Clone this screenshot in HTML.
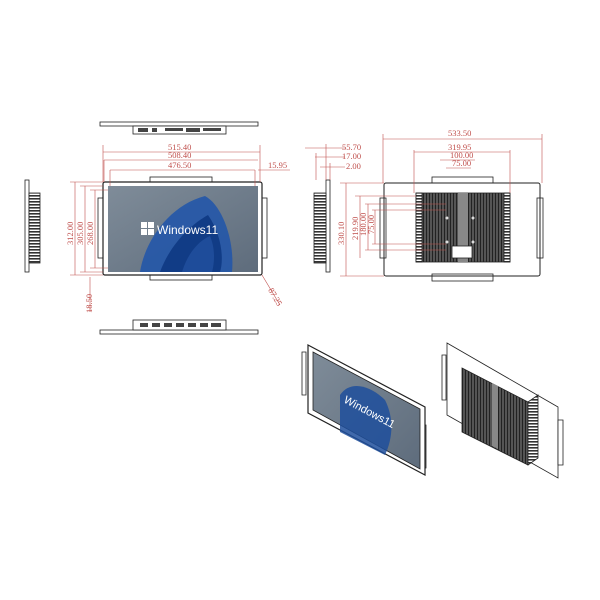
<!DOCTYPE html>
<html><head><meta charset="utf-8"><style>body{margin:0;background:#fff}svg{display:block}</style></head><body>
<svg width="600" height="600" viewBox="0 0 600 600" xmlns="http://www.w3.org/2000/svg" font-family="Liberation Serif, serif">
<defs>
<linearGradient id="scr" x1="0" y1="0" x2="1" y2="1"><stop offset="0" stop-color="#7f8c99"/><stop offset="1" stop-color="#5e6c7c"/></linearGradient>
<pattern id="fins" width="3" height="3" patternUnits="userSpaceOnUse"><rect width="3" height="3" fill="#fff"/><rect width="3" height="1.6" fill="#333"/></pattern>
<pattern id="vfins" width="3" height="3" patternUnits="userSpaceOnUse"><rect width="3" height="3" fill="#555"/><rect width="1" height="3" fill="#222"/></pattern>
</defs>
<g stroke="#222" fill="none" stroke-width="0.8">
<rect x="100" y="122" width="158" height="4"/>
<rect x="133" y="126" width="93" height="8" fill="#fff"/>
<g fill="#444" stroke="none"><rect x="138" y="128" width="10" height="4"/><rect x="152" y="128" width="5" height="4"/><rect x="165" y="128" width="18" height="3"/><rect x="186" y="128" width="14" height="4"/><rect x="203" y="128" width="18" height="3"/></g>
<rect x="100" y="330" width="158" height="4"/>
<rect x="133" y="320" width="93" height="10" fill="#fff"/>
<g fill="#444" stroke="none"><rect x="140" y="323" width="8" height="4"/><rect x="152" y="323" width="8" height="4"/><rect x="164" y="323" width="8" height="4"/><rect x="176" y="323" width="8" height="4"/><rect x="188" y="323" width="8" height="4"/><rect x="200" y="323" width="8" height="4"/><rect x="211" y="323" width="10" height="4"/></g>
<rect x="25" y="180" width="4" height="92"/>
<rect x="29" y="193" width="11" height="70" fill="url(#fins)"/>
<rect x="150" y="177" width="62" height="5" fill="#fff"/>
<rect x="150" y="275" width="62" height="5" fill="#fff"/>
<rect x="98" y="198" width="5" height="60" fill="#fff"/>
<rect x="262" y="198" width="5" height="60" fill="#fff"/>
<rect x="103" y="182" width="159" height="93" rx="2" stroke-width="1.2" fill="#fff"/>
</g>
<rect x="108" y="186" width="150" height="86" fill="url(#scr)"/>
<path d="M140 272 C145 240 170 205 205 196 C222 205 235 240 232 272 Z" fill="#2457a8" opacity="0.9"/>
<path d="M160 272 C170 245 190 225 208 215 C222 235 224 260 220 272 Z" fill="#113c86"/>
<path d="M182 272 C188 252 200 240 210 236 C216 250 214 265 212 272 Z" fill="#1e4c9a"/>
<g fill="#fff"><rect x="141" y="222" width="6" height="6"/><rect x="148" y="222" width="6" height="6"/><rect x="141" y="229" width="6" height="6"/><rect x="148" y="229" width="6" height="6"/></g>
<text x="157" y="234" font-family="Liberation Sans, sans-serif" font-size="12" fill="#fff">Windows11</text>
<g stroke="#222" fill="none" stroke-width="0.8">
<rect x="326" y="180" width="4" height="92"/>
<rect x="314" y="193" width="12" height="70" fill="url(#fins)"/>
<rect x="432" y="177" width="61" height="6" fill="#fff"/>
<rect x="432" y="274" width="61" height="7" fill="#fff"/>
<rect x="380" y="198" width="6" height="60" fill="#fff"/>
<rect x="537" y="198" width="6" height="60" fill="#fff"/>
<rect x="384" y="183" width="156" height="93" rx="2" fill="none" stroke-width="1"/>
<rect x="416" y="193" width="94" height="69" fill="url(#vfins)"/>
<rect x="458" y="193" width="10" height="69" fill="#888" stroke="none"/>
<rect x="416" y="193" width="6" height="69" fill="url(#fins)"/>
<rect x="504" y="193" width="6" height="69" fill="url(#fins)"/>
<rect x="452" y="246" width="20" height="12" fill="#fff"/>
</g>
<g fill="#ddd"><circle cx="447" cy="218" r="1.5"/><circle cx="473" cy="218" r="1.5"/><circle cx="447" cy="242" r="1.5"/><circle cx="473" cy="242" r="1.5"/></g>
<g stroke="#c0504d" stroke-width="0.6" fill="none">
<path d="M103 152H260M104 160H258M110 170H255M258 170H290M103 145V182M260 145V182M104 160V182M110 170V186M255 170V186"/>
<path d="M75 182V275M85 186V272M95 190V268M70 182H103M80 186H103M90 190H108M70 275H103M80 272H103M90 268H108"/>
<path d="M90 277V312M262 275L280 305"/>
<path d="M383 139H542M414 152H510M440 160H475M446 168H471M383 134V183M542 134V183M414 150V193M510 150V193"/>
<path d="M346 183V276M360 196V258M368 204V250M375 210V244M340 183H384M340 276H384M355 196H416M365 204H446M372 210H446M365 250H446M372 244H446"/>
<path d="M305 148H345M315 157H345M320 167H345M326 144V180M316 153V180M330 163V180"/>
</g>
<g fill="#c0504d" font-size="8.5">
<text x="168" y="150">515.40</text><text x="168" y="158">508.40</text><text x="168" y="168">476.50</text>
<text x="268" y="168">15.95</text>
<text transform="translate(73,245) rotate(-90)">312.00</text>
<text transform="translate(83,245) rotate(-90)">305.00</text>
<text transform="translate(93,245) rotate(-90)">268.00</text>
<text transform="translate(92,313) rotate(-90)">18.50</text>
<text transform="translate(268,290) rotate(60)">87.25</text>
<text x="448" y="136">533.50</text><text x="448" y="150">319.95</text><text x="450" y="158">100.00</text><text x="452" y="166">75.00</text>
<text x="342" y="150">55.70</text><text x="342" y="159">17.00</text><text x="346" y="169">2.00</text>
<text transform="translate(344,245) rotate(-90)">330.10</text>
<text transform="translate(358,240) rotate(-90)">219.90</text>
<text transform="translate(366,236) rotate(-90)">180.00</text>
<text transform="translate(374,234) rotate(-90)">75.00</text>
</g>
<g stroke="#222" stroke-width="0.8">
<polygon points="302,352 306,352 306,395 302,395" fill="#fff"/>
<polygon points="422,425 426,425 426,468 422,468" fill="#fff"/>
<polygon points="308,345 425,407 425,475 308,413" fill="#fff" stroke-width="1.2"/>
<polygon points="313,352 420,409 420,469 313,410" fill="url(#scr)"/>
</g>
<path d="M340 395 C350 380 370 385 385 400 C395 420 392 440 385 455 L340 432 Z" fill="#1f4f9c" opacity="0.85"/>
<text transform="translate(343,402) rotate(28)" font-family="Liberation Sans, sans-serif" font-size="11" fill="#fff">Windows11</text>
<g stroke="#222" stroke-width="0.8">
<polygon points="447,343 558,407 558,478 447,415" fill="#fff"/>
<polygon points="442,355 446,355 446,400 442,400" fill="#fff"/>
<polygon points="558,420 563,420 563,465 558,465" fill="#fff"/>
<polygon points="462,368 528,402 528,465 462,432" fill="url(#vfins)"/>
<polygon points="492,383 498,386 498,449 492,446" fill="#888" stroke="none"/>
<polygon points="528,402 538,395 538,458 528,465" fill="url(#fins)"/>
</g>
</svg>
</body></html>
